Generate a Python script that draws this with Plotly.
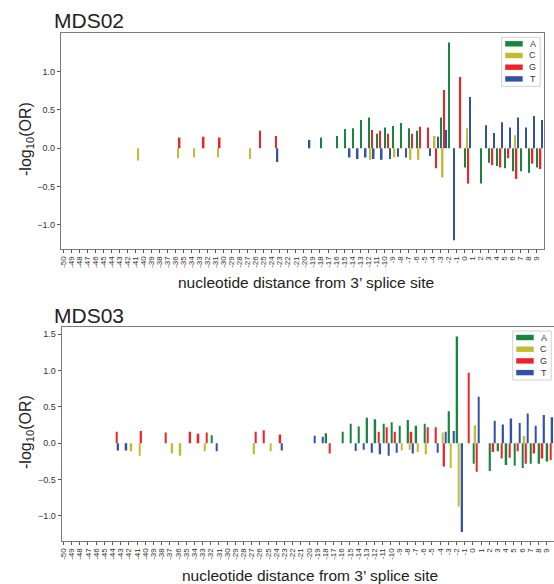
import plotly.graph_objects as go

W, H = 554, 584

positions = list(range(-50, 10))
tick_text = [str(p) for p in positions]
bases = ['A', 'C', 'G', 'T']
colors = {'A': '#17843f', 'C': '#bfbd33', 'G': '#ec2327', 'T': '#3352a6'}

# MDS02 -log10(OR) per base: positions with a bar and their values
mds02_A_pos = [-18, -16, -15, -14, -13, -12, -11, -10, -9, -8, -7, -6, -3, -2, 0, 2, 3, 4, 5, 6, 7, 8, 9]
mds02_A_val = [0.14, 0.16, 0.25, 0.26, 0.37, 0.40, 0.19, 0.27, 0.29, 0.33, 0.26, 0.23, 0.40, 1.38,
               -0.25, -0.46, -0.19, -0.23, -0.26, -0.30, -0.30, -0.32, -0.25]
mds02_C_pos = [-41, -36, -34, -31, -27, -12, -9, -7, -6, -4, -3, 0, 6]
mds02_C_val = [-0.16, -0.13, -0.12, -0.12, -0.14, -0.15, -0.12, -0.15, -0.15, 0.16, -0.38, 0.26, 0.17]
mds02_G_pos = [-36, -33, -31, -26, -24, -12, -11, -10, -7, -6, -5, -4, -3, -1, 0, 3, 4, 5, 6, 8, 9]
mds02_G_val = [0.14, 0.15, 0.14, 0.23, 0.16, 0.24, 0.23, 0.19, 0.19, 0.28, 0.27, -0.26, 0.76, 0.93,
               -0.46, -0.22, -0.25, -0.13, -0.40, -0.20, -0.27]
mds02_T_pos = [-24, -20, -15, -14, -13, -12, -11, -10, -9, -8, -5, -4, -3, -2, 0, 2, 3, 4, 5, 6, 7, 8, 9]
mds02_T_val = [-0.18, 0.11, -0.12, -0.14, -0.12, -0.14, -0.15, -0.14, -0.11, -0.12, -0.10, 0.15, 0.24,
               -1.20, 0.67, 0.30, 0.20, 0.34, 0.27, 0.40, 0.27, 0.42, 0.37]

# MDS03
mds03_A_pos = [-32, -18, -16, -15, -14, -13, -12, -11, -10, -9, -8, -7, -6, -3, -2, 0, 2, 3, 4, 5, 6, 7, 8, 9]
mds03_A_val = [0.11, 0.14, 0.16, 0.27, 0.23, 0.35, 0.33, 0.27, 0.29, 0.24, 0.32, 0.24, 0.27, 0.44, 1.47,
               -0.28, -0.38, -0.11, -0.30, -0.31, -0.34, -0.28, -0.28, -0.25]
mds03_C_pos = [-42, -41, -37, -36, -33, -27, -25, -9, -8, -7, -6, -4, -3, -2, 0, 6]
mds03_C_val = [-0.11, -0.17, -0.14, -0.17, -0.11, -0.15, -0.11, -0.10, -0.09, -0.12, -0.15, 0.15, -0.34,
               -0.87, 0.25, 0.10]
mds03_G_pos = [-44, -41, -38, -35, -34, -33, -27, -26, -24, -18, -12, -11, -10, -8, -6, -5, -4, -1, 0,
               2, 3, 4, 5, 6, 7, 8, 9]
mds03_G_val = [0.16, 0.17, 0.15, 0.16, 0.13, 0.15, 0.16, 0.18, 0.12, -0.14, 0.16, 0.22, 0.16, 0.16, 0.22,
               0.22, -0.32, 0.97, -0.39, -0.12, -0.21, -0.20, -0.11, -0.28, -0.14, -0.21, -0.23]
mds03_T_pos = [-44, -43, -32, -24, -20, -19, -15, -14, -13, -12, -11, -10, -8, -5, -4, -3, -2, 0, 2, 3, 4,
               5, 6, 7, 8, 9]
mds03_T_val = [-0.10, -0.10, -0.11, -0.10, 0.105, 0.09, -0.105, -0.09, -0.13, -0.15, -0.17, -0.13, -0.14,
               -0.13, 0.16, 0.17, -1.22, 0.64, 0.31, 0.26, 0.34, 0.28, 0.41, 0.24, 0.39, 0.36]

samples = [
    ('MDS02', {'A': (mds02_A_pos, mds02_A_val), 'C': (mds02_C_pos, mds02_C_val),
               'G': (mds02_G_pos, mds02_G_val), 'T': (mds02_T_pos, mds02_T_val)}),
    ('MDS03', {'A': (mds03_A_pos, mds03_A_val), 'C': (mds03_C_pos, mds03_C_val),
               'G': (mds03_G_pos, mds03_G_val), 'T': (mds03_T_pos, mds03_T_val)}),
]

font = 'Liberation Sans, Arial, sans-serif'
bar_w = 0.19
bar_off = {b: 0.1 + 0.2 * i - bar_w / 2 for i, b in enumerate(bases)}

# panel boxes in window pixels: left, right, top, bottom, y range, y ticks
panels = [
    dict(l=61, r=544, t=33, b=249, xr=[-50.29, 9.93], yr=[-1.313, 1.503],
         yt=[-1.0, -0.5, 0.0, 0.5, 1.0], mirror_y=True, leg=(501.7, 37.3), xt=282),
    dict(l=61.7, r=554, t=327, b=541, xr=[-50.2, 9.91], yr=[-1.344, 1.60],
         yt=[-1.0, -0.5, 0.0, 0.5, 1.0, 1.5], mirror_y=False, leg=(512.7, 331), xt=575),
]


def px(x):
    return x / W


def py(y):
    return 1 - y / H


def label(text, x, y, size, color='#222', angle=0, xanchor='center'):
    return dict(text=text, x=px(x), y=py(y), xref='paper', yref='paper', textangle=angle,
                xanchor=xanchor, yanchor='middle', showarrow=False,
                font=dict(family=font, size=size, color=color))


fig = go.Figure()
shapes = []
annotations = []

for k, ((name, data), p) in enumerate(zip(samples, panels)):
    xa = 'x' if k == 0 else 'x2'
    ya = 'y' if k == 0 else 'y2'
    for b in bases:
        xs, ys = data[b]
        fig.add_trace(go.Bar(x=xs, y=ys, name=b, width=bar_w, offset=bar_off[b],
                             marker=dict(color=colors[b], line=dict(width=0)),
                             xaxis=xa, yaxis=ya, showlegend=False))

    axis_x = dict(domain=[px(p['l']), min(1, px(p['r']))], range=p['xr'], tickmode='array',
                  tickvals=positions, ticktext=tick_text, tickangle=-90,
                  tickfont=dict(family=font, size=8, color='#333'), ticks='outside',
                  ticklen=3, tickcolor='#555', showline=True, mirror=True,
                  linecolor='#7a7a7a', linewidth=1.2, showgrid=False, zeroline=False,
                  anchor=ya, automargin=False)
    axis_y = dict(domain=[py(p['b']), py(p['t'])], range=p['yr'], tickmode='array',
                  tickvals=p['yt'], tickformat='.1f',
                  tickfont=dict(family=font, size=9, color='#333'), ticks='outside',
                  ticklen=3, tickcolor='#555', showline=True, mirror=p['mirror_y'],
                  linecolor='#7a7a7a', linewidth=1.2, showgrid=False, zeroline=False,
                  anchor=xa, automargin=False)
    fig.update_layout(**{('xaxis' if k == 0 else 'xaxis2'): axis_x,
                         ('yaxis' if k == 0 else 'yaxis2'): axis_y})

    annotations.append(label(name, 52, p['t'] - 12, 21, xanchor='left'))
    annotations.append(label('-log<sub>10</sub>(OR)', 26, (p['t'] + p['b']) / 2 - 2, 16, angle=-90))
    annotations.append(label('nucleotide distance from 3\u2019 splice site',
                             306 if k == 0 else 310, p['xt'], 15.5))

    # legend box
    lx, ly = p['leg']
    shapes.append(dict(type='rect', xref='paper', yref='paper', x0=px(lx), x1=px(lx + 38.5),
                       y0=py(ly), y1=py(ly + 49), line=dict(color='#d0d0d0', width=1),
                       fillcolor='white', layer='above'))
    for i, b in enumerate(bases):
        cy = ly + 6.5 + 11.7 * i
        shapes.append(dict(type='rect', xref='paper', yref='paper', x0=px(lx + 3.5), x1=px(lx + 21),
                           y0=py(cy - 2.7), y1=py(cy + 2.7), line=dict(width=0),
                           fillcolor=colors[b], layer='above'))
        annotations.append(label(b, lx + 30.8, cy, 9, color='#333'))

fig.update_layout(width=W, height=H, margin=dict(l=0, r=0, t=0, b=0, autoexpand=False),
                  paper_bgcolor='white', plot_bgcolor='white', barmode='overlay',
                  shapes=shapes, annotations=annotations, showlegend=False)

# drop the page's default body margin so the figure fills the window exactly
fig.write_html("out.html", config={'displayModeBar': False},
               post_script="document.body.style.margin='0';"
                           "document.body.style.overflow='hidden';")
